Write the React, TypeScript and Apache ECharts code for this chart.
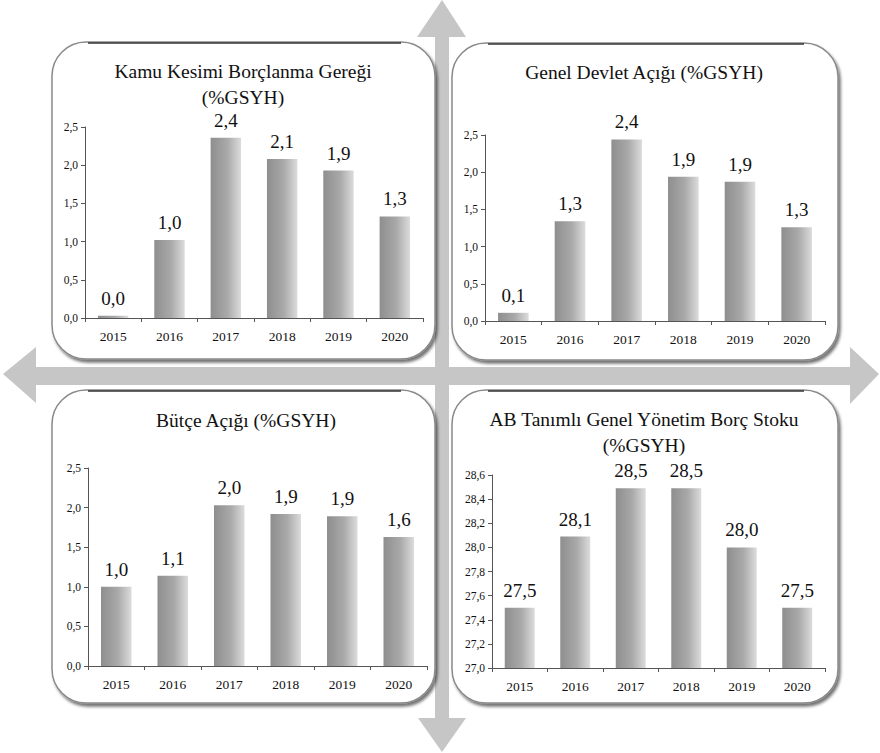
import React, { useEffect, useRef } from "react";
import * as echarts from "echarts";

const years = ["2015", "2016", "2017", "2018", "2019", "2020"];
const kamuKesimi = [0.03, 1.02, 2.36, 2.08, 1.93, 1.33];
const genelDevlet = [0.11, 1.34, 2.44, 1.94, 1.87, 1.26];
const butceAcigi = [1.0, 1.14, 2.03, 1.92, 1.89, 1.63];
const abBorcStoku = [27.5, 28.09, 28.49, 28.49, 28.0, 27.5];

const titles = [
  ["Kamu Kesimi Borçlanma Gereği", "(%GSYH)"],
  ["Genel Devlet Açığı (%GSYH)"],
  ["Bütçe Açığı (%GSYH)"],
  ["AB Tanımlı Genel Yönetim Borç Stoku", "(%GSYH)"],
];

const TITLE_FONT = "Times New Roman, Liberation Serif, serif";
const NUM_FONT = "Liberation Serif, serif";

function fmt(v: number) {
  return v.toFixed(1).replace(".", ",");
}

export default function App() {
  const ref = useRef<HTMLDivElement>(null);
  useEffect(() => {
    if (!ref.current) return;
    const chart = echarts.init(ref.current, null, { renderer: "svg" });

    const grids = [
      { left: 85, right: 457, top: 127, bottom: 435 },
      { left: 485, right: 55, top: 135, bottom: 432 },
      { left: 88, right: 453, top: 468, bottom: 87 },
      { left: 492, right: 55, top: 475, bottom: 85 },
    ];
    const dataSets = [kamuKesimi, genelDevlet, butceAcigi, abBorcStoku];
    const yRanges = [
      { min: 0, max: 2.5, interval: 0.5 },
      { min: 0, max: 2.5, interval: 0.5 },
      { min: 0, max: 2.5, interval: 0.5 },
      { min: 27, max: 28.6, interval: 0.2 },
    ];

    const barGradient = new echarts.graphic.LinearGradient(0, 0, 1, 0, [
      { offset: 0, color: "#8e8e8e" },
      { offset: 0.55, color: "#a9a9a9" },
      { offset: 1, color: "#dcdcdc" },
    ]);

    const arrowFill = "#c6c6c6";

    const panels = [
      { x: 52, y: 42, w: 383, h: 317 },
      { x: 452, y: 43, w: 386, h: 317 },
      { x: 52, y: 390, w: 383, h: 313 },
      { x: 452, y: 390, w: 386, h: 313 },
    ];

    const titleGraphics: any[] = [];
    const titlePos = [
      { x: 243, y: [71, 97] },
      { x: 644, y: [72] },
      { x: 246, y: [420] },
      { x: 644, y: [419, 445] },
    ];
    titles.forEach((lines, i) => {
      lines.forEach((t, j) => {
        titleGraphics.push({
          type: "text",
          z: 10,
          x: titlePos[i].x,
          y: titlePos[i].y[j],
          style: {
            text: t,
            fontSize: 19.5,
            fontFamily: TITLE_FONT,
            fill: "#111",
            align: "center",
            verticalAlign: "middle",
          },
        });
      });
    });

    chart.setOption({
      animation: false,
      backgroundColor: "#ffffff",
      graphic: [
        {
          type: "polygon",
          z: 1,
          shape: {
            points: [
              [442, 0],
              [466, 37],
              [449, 37],
              [449, 718],
              [466, 718],
              [442, 752],
              [418, 718],
              [435, 718],
              [435, 37],
              [417, 37],
            ],
          },
          style: { fill: arrowFill },
        },
        {
          type: "polygon",
          z: 1,
          shape: {
            points: [
              [3, 374],
              [36, 347],
              [36, 367],
              [850, 367],
              [850, 347],
              [879, 374],
              [850, 404],
              [850, 385],
              [36, 385],
              [36, 403],
            ],
          },
          style: { fill: arrowFill },
        },
        ...panels.map((p) => ({
          type: "rect",
          z: 2,
          shape: { x: p.x, y: p.y, width: p.w, height: p.h, r: 34 },
          style: {
            fill: "#ffffff",
            stroke: "#8a8a8a",
            lineWidth: 1.5,
            shadowColor: "rgba(0,0,0,0.55)",
            shadowBlur: 3,
            shadowOffsetX: 2,
            shadowOffsetY: 3,
          },
        })),
        ...panels.map((p) => ({
          type: "line",
          z: 3,
          shape: { x1: p.x + 36, y1: p.y + 1, x2: p.x + p.w - 34, y2: p.y + 1 },
          style: { stroke: "#333", lineWidth: 1.5 },
        })),
        ...titleGraphics,
      ],
      grid: grids.map((g) => ({ ...g, containLabel: false })),
      xAxis: grids.map((_, i) => ({
        type: "category",
        gridIndex: i,
        z: 10,
        data: years,
        axisLine: { lineStyle: { color: "#555", width: 1 } },
        axisTick: { show: true, length: 4, lineStyle: { color: "#555" } },
        axisLabel: {
          color: "#111",
          fontFamily: NUM_FONT,
          fontSize: 13.5,
          margin: 11,
        },
        splitLine: { show: false },
      })),
      yAxis: grids.map((_, i) => ({
        type: "value",
        gridIndex: i,
        z: 10,
        min: yRanges[i].min,
        max: yRanges[i].max,
        interval: yRanges[i].interval,
        axisLine: { show: true, lineStyle: { color: "#555", width: 1 } },
        axisTick: { show: true, length: 4, lineStyle: { color: "#555" } },
        axisLabel: {
          color: "#111",
          fontFamily: NUM_FONT,
          fontSize: 11.5,
          margin: 7,
          formatter: (v: number) => fmt(v),
        },
        splitLine: { show: false },
      })),
      series: dataSets.map((d, i) => ({
        type: "bar",
        xAxisIndex: i,
        yAxisIndex: i,
        data: d,
        barWidth: "54%",
        z: 5,
        itemStyle: { color: barGradient },
        label: {
          show: true,
          position: "top",
          distance: 8,
          color: "#111",
          fontFamily: NUM_FONT,
          fontSize: 19,
          formatter: (p: any) => fmt(p.value),
        },
      })),
    });

    return () => chart.dispose();
  }, []);

  return (
    <div
      ref={ref}
      style={{ position: "fixed", left: 0, top: 0, width: 880, height: 753 }}
    />
  );
}
